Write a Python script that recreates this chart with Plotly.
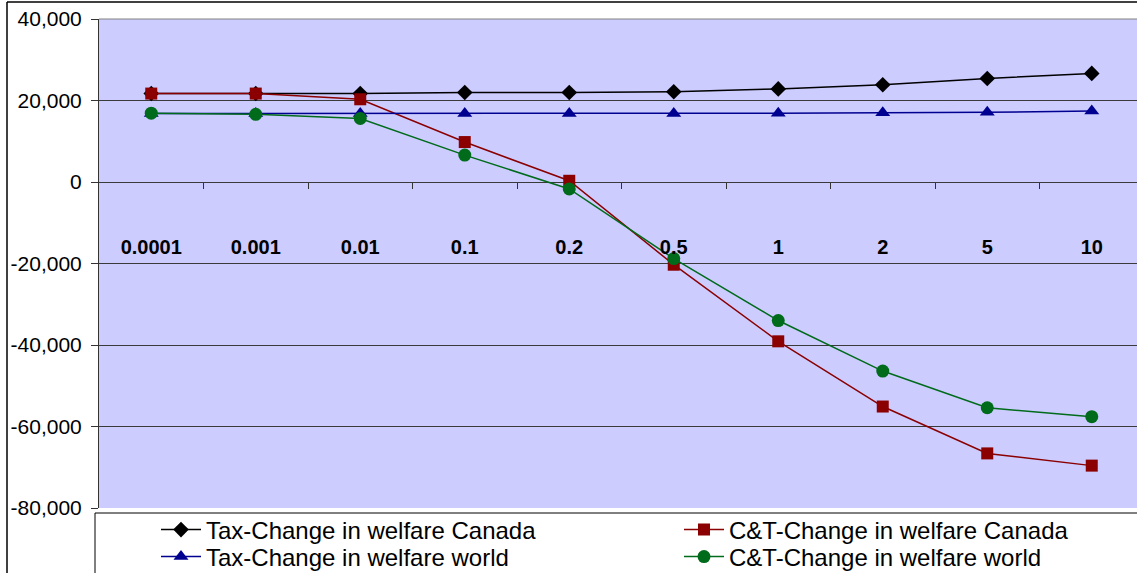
import plotly.graph_objects as go

categories = ["0.0001", "0.001", "0.01", "0.1", "0.2", "0.5", "1", "2", "5", "10"]
tax_canada = [21700, 21700, 21700, 21950, 21950, 22150, 22850, 23850, 25400, 26650]
ct_canada = [21700, 21700, 20300, 9800, 300, -20300, -39100, -55100, -66600, -69600]
tax_world = [16800, 16800, 16800, 16800, 16800, 16800, 16900, 17000, 17100, 17400]
ct_world = [16900, 16600, 15600, 6600, -1700, -18800, -34000, -46400, -55400, -57600]
y_tick_vals = [40000, 20000, 0, -20000, -40000, -60000, -80000]
y_tick_labels = ["40,000", "20,000", "0", "-20,000", "-40,000", "-60,000", "-80,000"]

xs = list(range(len(categories)))
boundaries = [i + 0.5 for i in range(len(categories) - 1)]

# body margin is removed by post_script, so figure coords = page coords
W, H = 1137, 573
L, T, R = 99, 19, 0
B = H - 508
pw, ph = W - L - R, H - T - B
px_per_cat = 104.5
xmax = -0.5 + pw / px_per_cat

def px2x(p):
    return (p - L) / pw

def py2y(p):
    return (H - B - p) / ph

font_main = "Liberation Sans, Arial, sans-serif"

# name, values, colour, symbol, size, legend id, legend x px, legend y px
series = [
    ("Tax-Change in welfare Canada", tax_canada, "#000000", "diamond", 12, "legend", 156, 530),
    ("C&T-Change in welfare Canada", ct_canada, "#8B0000", "square", 12, "legend2", 679, 530),
    ("Tax-Change in welfare world", tax_world, "#000090", "triangle-up", 13, "legend3", 156, 557),
    ("C&T-Change in welfare world", ct_world, "#006B1A", "circle", 13, "legend4", 679, 557),
]

fig = go.Figure()
legends = {}
for name, vals, col, sym, sz, lg, lx, ly in series:
    fig.add_trace(go.Scatter(
        x=xs, y=vals, name=name, mode="lines+markers", legend=lg,
        line=dict(color=col, width=1.5),
        marker=dict(symbol=sym, size=sz, color=col),
    ))
    legends[lg] = dict(
        x=px2x(lx), y=py2y(ly), xanchor="left", yanchor="middle",
        font=dict(size=24, color="black", family=font_main),
        bgcolor="rgba(0,0,0,0)", borderwidth=0, itemwidth=40,
    )

# zero line with boundary ticks
fig.add_trace(go.Scatter(x=[xs[0]], y=[0], xaxis="x2", showlegend=False,
                         mode="markers", marker=dict(opacity=0), hoverinfo="skip"))

fig.update_layout(
    width=W, height=H,
    margin=dict(l=L, r=R, t=T, b=B, pad=0, autoexpand=False),
    paper_bgcolor="white",
    plot_bgcolor="#CCCCFF",
    font=dict(family=font_main, color="black"),
    xaxis=dict(
        range=[-0.5, xmax], tickmode="array", tickvals=xs, ticktext=categories,
        showgrid=False, zeroline=False, showline=False, ticks="",
        anchor="free", position=py2y(233),
        tickfont=dict(size=20, family="Liberation Sans, Arial", weight="bold"),
    ),
    xaxis2=dict(
        range=[-0.5, xmax], overlaying="x", anchor="free",
        position=py2y(182), side="bottom",
        tickmode="array", tickvals=boundaries, showticklabels=False,
        ticks="outside", ticklen=6, tickcolor="#333333", tickwidth=1,
        showline=False, showgrid=False, zeroline=False,
    ),
    yaxis=dict(
        range=[-80000, 40000], tickmode="array", tickvals=y_tick_vals,
        ticktext=y_tick_labels, showgrid=True, gridcolor="#3a3a3a", gridwidth=1,
        zeroline=True, zerolinecolor="#3a3a3a", zerolinewidth=1,
        showline=True, linecolor="#333333", linewidth=1,
        ticks="outside", ticklen=7, tickcolor="#333333",
        ticklabelstandoff=5, ticklabeloverflow="allow",
        tickfont=dict(size=21, color="black"),
    ),
    showlegend=True,
    hovermode=False,
    shapes=[
        # legend box
        dict(type="rect", xref="paper", yref="paper",
             x0=px2x(95), x1=px2x(1160), y0=py2y(513), y1=py2y(600),
             line=dict(color="black", width=1), fillcolor="white", layer="above"),
        # outer chart border
        dict(type="line", xref="paper", yref="paper",
             x0=px2x(7), x1=px2x(7), y0=py2y(2), y1=py2y(600),
             line=dict(color="black", width=1.5)),
        dict(type="line", xref="paper", yref="paper",
             x0=px2x(7), x1=px2x(1160), y0=py2y(2), y1=py2y(2),
             line=dict(color="black", width=1.5)),
        # plot area top border
        dict(type="line", xref="paper", yref="paper",
             x0=0, x1=1, y0=1, y1=1,
             line=dict(color="#808080", width=1)),
    ],
)
fig.update_layout(**legends)

fig.write_html(
    "out.html",
    config={"displayModeBar": False},
    post_script="document.body.style.margin='0';document.body.style.overflow='hidden';",
)
